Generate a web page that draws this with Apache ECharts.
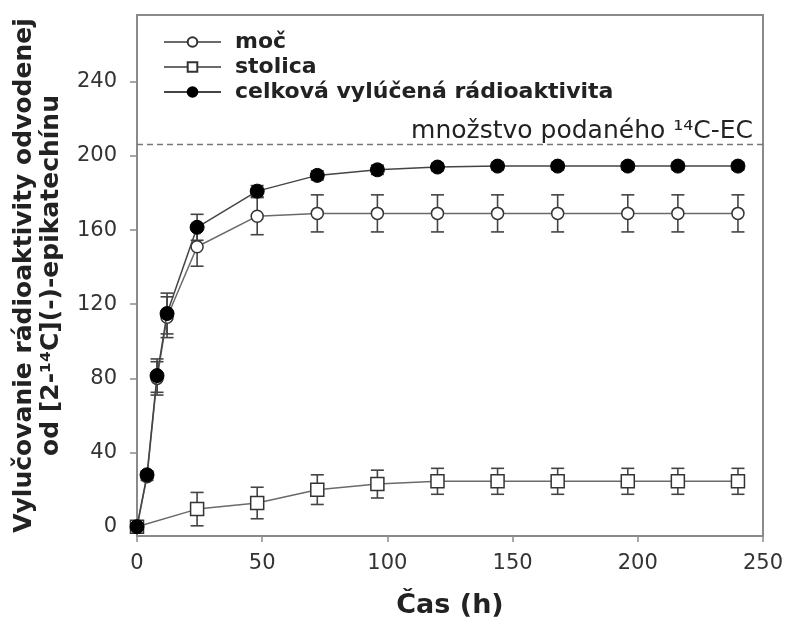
<!DOCTYPE html>
<html>
<head>
<meta charset="utf-8">
<script src="https://cdn.jsdelivr.net/npm/echarts@6/dist/echarts.min.js"></script>
<style>
  html, body { margin: 0; padding: 0; background: #fff; }
  #chart { width: 787px; height: 626px; }
</style>
</head>
<body>
<div id="chart"></div>
<script>
// hodiny odberu
var hours = [0, 4, 8, 12, 24, 48, 72, 96, 120, 144, 168, 196, 216, 240];
var mocVals = [0, 27, 80, 113, 151, 167.5, 169, 169, 169, 169, 169, 169, 169, 169];
var mocErr = [0, 2, 9, 11, 10.5, 10, 10, 10, 10, 10, 10, 10, 10, 10];
var totalVals = [0, 28, 81.5, 115, 161.5, 181, 189.5, 192.5, 194, 194.5, 194.5, 194.5, 194.5, 194.5];
var totalErr = [0, 2, 9, 11, 7, 3, 2.5, 2.5, 2, 2, 2, 2, 2, 2];
var stolicaHours = [0, 24, 48, 72, 96, 120, 144, 168, 196, 216, 240];
var stolicaVals = [0, 9.5, 12.8, 20, 23, 24.5, 24.5, 24.5, 24.5, 24.5, 24.5];
var stolicaErr = [0, 9, 8.5, 8, 7.5, 7, 7, 7, 7, 7, 7];
var doseLevel = 206.5;
var yTicks = [0, 40, 80, 120, 160, 200, 240];

var FONT = '"DejaVu Sans", Verdana, sans-serif';

function pairs(xs, ys) {
    var out = [];
    for (var i = 0; i < xs.length; i++) out.push([xs[i], ys[i]]);
    return out;
}
function errData(xs, ys, es) {
    var out = [];
    for (var i = 0; i < xs.length; i++) out.push([xs[i], ys[i] - es[i], ys[i] + es[i]]);
    return out;
}
function errorSeries(data) {
    return {
        type: 'custom',
        z: 1,
        silent: true,
        data: data,
        encode: {x: 0, y: [1, 2]},
        renderItem: function (params, api) {
            var lo = api.coord([api.value(0), api.value(1)]);
            var hi = api.coord([api.value(0), api.value(2)]);
            var w = 6.5;
            var st = {stroke: '#444', lineWidth: 1.6};
            return {
                type: 'group',
                children: [
                    {type: 'line', shape: {x1: lo[0], y1: lo[1], x2: hi[0], y2: hi[1]}, style: st},
                    {type: 'line', shape: {x1: lo[0] - w, y1: lo[1], x2: lo[0] + w, y2: lo[1]}, style: st},
                    {type: 'line', shape: {x1: hi[0] - w, y1: hi[1], x2: hi[0] + w, y2: hi[1]}, style: st}
                ]
            };
        }
    };
}

var chart = echarts.init(document.getElementById('chart'));

var option = {
    animation: false,
    textStyle: {fontFamily: FONT},
    grid: {
        left: 137, right: 24, top: 15, bottom: 90,
        show: true, borderColor: '#8a8a8a', borderWidth: 2
    },
    legend: {
        orient: 'vertical',
        left: 158, top: 26,
        itemWidth: 57, itemHeight: 12, itemGap: 3,
        textStyle: {fontFamily: FONT, fontSize: 22, fontWeight: 'bold', color: '#222', padding: [0, 0, 0, 9]},
        data: ['moč', 'stolica', 'celková vylúčená rádioaktivita']
    },
    xAxis: {
        type: 'value',
        min: 0, max: 250, interval: 50,
        name: 'Čas (h)',
        nameLocation: 'middle',
        nameGap: 56,
        nameTextStyle: {fontFamily: FONT, fontSize: 27, fontWeight: 'bold', color: '#222'},
        axisLine: {onZero: false, lineStyle: {color: '#8a8a8a', width: 2}},
        axisTick: {length: 6, lineStyle: {color: '#8a8a8a', width: 1.5}},
        axisLabel: {fontFamily: FONT, fontSize: 21, color: '#333', margin: 17},
        splitLine: {show: false}
    },
    yAxis: {
        type: 'value',
        min: -5, max: 276,
        name: 'Vylučovanie rádioaktivity odvodenej\nod [2-¹⁴C](-)-epikatechínu',
        nameLocation: 'middle',
        nameRotate: 90,
        nameGap: 72,
        nameTextStyle: {fontFamily: FONT, fontSize: 25, fontWeight: 'bold', color: '#222', lineHeight: 27},
        axisLine: {lineStyle: {color: '#8a8a8a', width: 2}},
        axisTick: {length: 7, customValues: yTicks, lineStyle: {color: '#8a8a8a', width: 1.5}},
        axisLabel: {fontFamily: FONT, fontSize: 21, color: '#333', margin: 20, customValues: yTicks},
        splitLine: {show: false}
    },
    series: [
        errorSeries(errData(stolicaHours, stolicaVals, stolicaErr)),
        errorSeries(errData(hours, mocVals, mocErr)),
        errorSeries(errData(hours, totalVals, totalErr)),
        {
            name: 'stolica',
            type: 'line',
            z: 3,
            data: pairs(stolicaHours, stolicaVals),
            symbol: 'rect',
            symbolSize: 13,
            lineStyle: {color: '#6a6a6a', width: 1.5},
            itemStyle: {color: '#fff', borderColor: '#333', borderWidth: 1.5}
        },
        {
            name: 'moč',
            type: 'line',
            z: 3,
            data: pairs(hours, mocVals),
            symbol: 'circle',
            symbolSize: 12,
            lineStyle: {color: '#6a6a6a', width: 1.5},
            itemStyle: {color: '#fff', borderColor: '#333', borderWidth: 1.5}
        },
        {
            name: 'celková vylúčená rádioaktivita',
            type: 'line',
            z: 4,
            data: pairs(hours, totalVals),
            symbol: 'circle',
            symbolSize: 14,
            lineStyle: {color: '#444', width: 1.5},
            itemStyle: {color: '#000', borderColor: '#000', borderWidth: 1},
            markLine: {
                silent: true,
                symbol: 'none',
                lineStyle: {type: [6, 4], color: '#777', width: 1.3},
                label: {
                    position: 'insideEndTop',
                    formatter: 'množstvo podaného ¹⁴C-EC',
                    fontFamily: FONT, fontSize: 25, color: '#222', distance: [10, 0]
                },
                data: [{yAxis: doseLevel}]
            }
        }
    ]
};

chart.setOption(option);
window.addEventListener('resize', function () {
    chart.resize();
});
</script>
</body>
</html>
